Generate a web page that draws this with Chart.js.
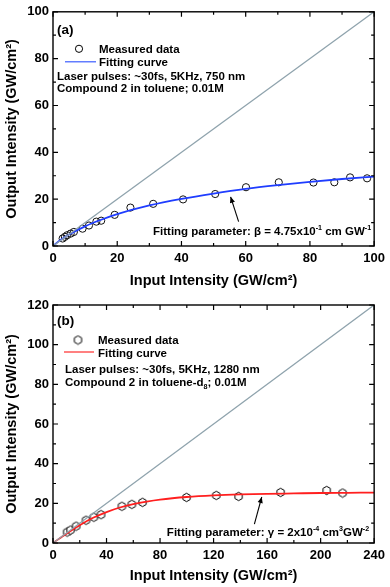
<!DOCTYPE html>
<html><head><meta charset="utf-8">
<script src="https://cdn.jsdelivr.net/npm/chart.js@4/dist/chart.umd.min.js"></script>
<style>
html,body{margin:0;padding:0;background:#fff;}
#wrap{position:relative;width:390px;height:587px;overflow:hidden;}
.c{position:absolute;left:0;width:390px;}
</style></head><body>
<div id="wrap">
<div class="c" style="top:0;height:292px"><canvas id="ca"></canvas></div>
<div class="c" style="top:292px;height:295px"><canvas id="cb"></canvas></div>
</div>
<script>
const FONT = "'Liberation Sans', Arial, sans-serif";

// ---- Panel (a) data ----
const aInput  = [3.0,3.7,4.4,5.5,6.5,9.2,11.2,13.5,15.0,19.2,24.1,31.2,40.5,50.5,60.1,70.3,81.1,87.6,92.5,97.8];
const aOutput = [3.2,3.9,4.6,5.3,6.0,7.4,8.75,10.4,10.8,13.3,16.4,18.0,19.9,22.2,25.1,27.2,27.1,27.2,29.3,28.9];
const aFitInput  = [0,2,5,10,15,20,30,40,50,60,70,80,90,100];
const aFitOutput = [0,2.2,4.9,8.4,11.2,13.6,17.3,20.1,22.4,24.4,26.0,27.4,28.6,29.6];
const aLinearIn  = [0,100];
const aLinearOut = [0,100];
const aTicksX = [0,20,40,60,80,100];
const aTicksY = [0,20,40,60,80,100];

// ---- Panel (b) data ----
const bInput  = [10.6,13.1,17.3,24.7,30.5,35.9,51.5,58.9,66.9,99.8,122,138.7,170.1,204.5,216.4];
const bOutput = [5.5,6.5,8.5,11.5,13.0,14.3,18.5,19.5,20.5,23.0,24.0,23.5,25.5,26.5,25.2];
const bFitInput  = [0,10,20,30,40,50,60,70,80,100,120,140,160,180,200,220,240];
const bFitOutput = [0,4.7,9.0,12.7,15.6,17.9,19.6,20.9,21.9,23.2,24.0,24.5,24.8,25.0,25.2,25.3,25.4];
const bLinearIn  = [0,240];
const bLinearOut = [0,120];
const bTicksX = [0,40,80,120,160,200,240];
const bTicksY = [0,20,40,60,80,100,120];

const pts = (xs, ys) => xs.map((x,i)=>({x, y: ys[i]}));

function hexagon(){
  const c = document.createElement('canvas'); c.width = 11; c.height = 11;
  const g = c.getContext('2d');
  g.beginPath();
  for (let i=0;i<6;i++){ const a = Math.PI/6 + i*Math.PI/3; const px = 5.5+4.2*Math.cos(a), py = 5.5+4.2*Math.sin(a); i?g.lineTo(px,py):g.moveTo(px,py); }
  g.closePath(); g.fillStyle='#fff'; g.fill(); g.strokeStyle='#000'; g.lineWidth=1; g.stroke();
  return c;
}
const HEX = hexagon();

function rich(ctx, parts, x, y, align, fs){
  const ss = fs*0.62;
  let w = 0;
  parts.forEach(([t,m])=>{ ctx.font = `bold ${m?ss:fs}px ${FONT}`; w += ctx.measureText(t).width; });
  let cx = align==='right' ? x - w : x;
  ctx.textAlign='left'; ctx.textBaseline='alphabetic'; ctx.fillStyle='#000';
  parts.forEach(([t,m])=>{
    ctx.font = `bold ${m?ss:fs}px ${FONT}`;
    const dy = m===1 ? -fs*0.42 : (m===-1 ? fs*0.22 : 0);
    ctx.fillText(t, cx, y+dy); cx += ctx.measureText(t).width;
  });
}

function arrow(ctx, x1,y1,x2,y2){
  ctx.save(); ctx.strokeStyle='#000'; ctx.fillStyle='#000'; ctx.lineWidth=1.1;
  ctx.beginPath(); ctx.moveTo(x1,y1); ctx.lineTo(x2,y2); ctx.stroke();
  const ang = Math.atan2(y2-y1,x2-x1), L=6, W=2.6;
  ctx.beginPath(); ctx.moveTo(x2,y2);
  ctx.lineTo(x2-L*Math.cos(ang)+W*Math.sin(ang), y2-L*Math.sin(ang)-W*Math.cos(ang));
  ctx.lineTo(x2-L*Math.cos(ang)-W*Math.sin(ang), y2-L*Math.sin(ang)+W*Math.cos(ang));
  ctx.closePath(); ctx.fill(); ctx.restore();
}

const framePlugin = {
  id:'frame',
  afterDatasetsDraw(chart){
    const {ctx, chartArea:a, scales:{x,y}} = chart;
    ctx.save();
    ctx.strokeStyle='#000'; ctx.lineWidth=1.4;
    ctx.strokeRect(a.left, a.top, a.right-a.left, a.bottom-a.top);
    ctx.lineWidth=1.2;
    const xv = x.ticks.map(t=>t.value), yv = y.ticks.map(t=>t.value);
    const mids = v => v.slice(1).map((t,i)=>(t+v[i])/2);
    const drawX = (vals,len)=>vals.forEach(v=>{ const p=x.getPixelForValue(v);
      ctx.beginPath(); ctx.moveTo(p,a.bottom); ctx.lineTo(p,a.bottom-len); ctx.moveTo(p,a.top); ctx.lineTo(p,a.top+len); ctx.stroke(); });
    const drawY = (vals,len)=>vals.forEach(v=>{ const p=y.getPixelForValue(v);
      ctx.beginPath(); ctx.moveTo(a.left,p); ctx.lineTo(a.left+len,p); ctx.moveTo(a.right,p); ctx.lineTo(a.right-len,p); ctx.stroke(); });
    drawX(xv,5); drawX(mids(xv),3); drawY(yv,5); drawY(mids(yv),3);
    ctx.restore();
  }
};

function makeOptions(xT, yT, padTop, xH){
  const tickFont = {family:FONT, size:13, weight:'bold'};
  const titleFont = {family:FONT, size:14.5, weight:'bold'};
  return {
    responsive:true, maintainAspectRatio:false, animation:false,
    layout:{padding:{top:padTop, right:13, left:0, bottom:0}},
    plugins:{legend:{display:false}, tooltip:{enabled:false}},
    scales:{
      x:{type:'linear', min:xT[0], max:xT[xT.length-1],
        afterBuildTicks(s){ s.ticks = xT.map(v=>({value:v})); },
        ticks:{font:tickFont, color:'#000', padding:5, maxRotation:0, autoSkip:false},
        grid:{display:false, drawTicks:false}, border:{display:false},
        title:{display:true, text:'Input Intensity (GW/cm²)', font:titleFont, color:'#000', padding:{top:0,bottom:2}},
        afterFit(s){ s.height = xH; }
      },
      y:{type:'linear', min:yT[0], max:yT[yT.length-1],
        afterBuildTicks(s){ s.ticks = yT.map(v=>({value:v})); },
        ticks:{font:tickFont, color:'#000', padding:4, autoSkip:false},
        grid:{display:false, drawTicks:false}, border:{display:false},
        title:{display:true, text:'Output Intensity (GW/cm²)', font:titleFont, color:'#000', padding:{top:3,bottom:0}},
        afterFit(s){ s.width = 53; }
      }
    }
  };
}

const GRAY = '#8fa3ad';

// ---- Chart (a) ----
const annotA = {
  id:'annotA',
  afterDraw(chart){
    const {ctx, chartArea:a, scales:{x,y}} = chart;
    ctx.save();
    const fs = 11.5, L = a.left;
    rich(ctx, [['(a)',0]], L+4, a.top+22, 'left', 13.5);
    ctx.beginPath(); ctx.arc(L+26, a.top+37, 3.6, 0, Math.PI*2); ctx.fillStyle='#fff'; ctx.fill();
    ctx.strokeStyle='#000'; ctx.lineWidth=1; ctx.stroke();
    rich(ctx, [['Measured data',0]], L+46, a.top+41, 'left', fs);
    ctx.beginPath(); ctx.moveTo(L+12, a.top+50); ctx.lineTo(L+43, a.top+50); ctx.strokeStyle='#3a5cff'; ctx.lineWidth=1.2; ctx.stroke();
    rich(ctx, [['Fitting curve',0]], L+46, a.top+54, 'left', fs);
    rich(ctx, [['Laser pulses: ~30fs, 5KHz, 750 nm',0]], L+4, a.top+68, 'left', fs);
    rich(ctx, [['Compound 2 in toluene; 0.01M',0]], L+4, a.top+80, 'left', fs);
    arrow(ctx, x.getPixelForValue(57.8), y.getPixelForValue(10.4), x.getPixelForValue(55.3), y.getPixelForValue(21));
    rich(ctx, [['Fitting parameter: β = 4.75x10',0],['-1',1],[' cm GW',0],['-1',1]], a.right-3, a.bottom-11, 'right', fs);
    ctx.restore();
  }
};

new Chart(document.getElementById('ca'), {
  type:'scatter',
  data:{datasets:[
    {data:pts(aLinearIn,aLinearOut), showLine:true, borderColor:GRAY, borderWidth:1.3, pointRadius:0},
    {data:pts(aFitInput,aFitOutput), showLine:true, borderColor:'#1f3dff', borderWidth:1.8, pointRadius:0, cubicInterpolationMode:'monotone'},
    {data:pts(aInput,aOutput), pointStyle:'circle', pointRadius:3.6, pointBackgroundColor:'rgba(255,255,255,0)', pointBorderColor:'#111', pointBorderWidth:1}
  ]},
  options: makeOptions(aTicksX, aTicksY, 5, 46),
  plugins:[framePlugin, annotA]
});

// ---- Chart (b) ----
const annotB = {
  id:'annotB',
  afterDraw(chart){
    const {ctx, chartArea:a, scales:{x,y}} = chart;
    ctx.save();
    const fs = 11.5, L = a.left;
    rich(ctx, [['(b)',0]], L+4, a.top+20, 'left', 13.5);
    ctx.drawImage(HEX, L+25-5.5, a.top+35-5.5);
    rich(ctx, [['Measured data',0]], L+45, a.top+39, 'left', fs);
    ctx.beginPath(); ctx.moveTo(L+11, a.top+47); ctx.lineTo(L+41, a.top+47); ctx.strokeStyle='#ff2a2a'; ctx.lineWidth=1.2; ctx.stroke();
    rich(ctx, [['Fitting curve',0]], L+45, a.top+52, 'left', fs);
    rich(ctx, [['Laser pulses: ~30fs, 5KHz, 1280 nm',0]], L+12, a.top+68, 'left', fs);
    rich(ctx, [['Compound 2 in toluene-d',0],['8',-1],['; 0.01M',0]], L+12, a.top+81, 'left', fs);
    arrow(ctx, x.getPixelForValue(150.5), y.getPixelForValue(9.5), x.getPixelForValue(156), y.getPixelForValue(23.2));
    rich(ctx, [['Fitting parameter: γ = 2x10',0],['-4',1],[' cm',0],['3',1],['GW',0],['-2',1]], a.right-5, a.bottom-7, 'right', fs);
    ctx.restore();
  }
};

new Chart(document.getElementById('cb'), {
  type:'scatter',
  data:{datasets:[
    {data:pts(bLinearIn,bLinearOut), showLine:true, borderColor:GRAY, borderWidth:1.3, pointRadius:0},
    {data:pts(bFitInput,bFitOutput), showLine:true, borderColor:'#ff1f1f', borderWidth:1.8, pointRadius:0, cubicInterpolationMode:'monotone'},
    {data:pts(bInput,bOutput), pointStyle:HEX, pointRadius:4}
  ]},
  options: makeOptions(bTicksX, bTicksY, 13, 44),
  plugins:[framePlugin, annotB]
});
</script>
</body></html>
